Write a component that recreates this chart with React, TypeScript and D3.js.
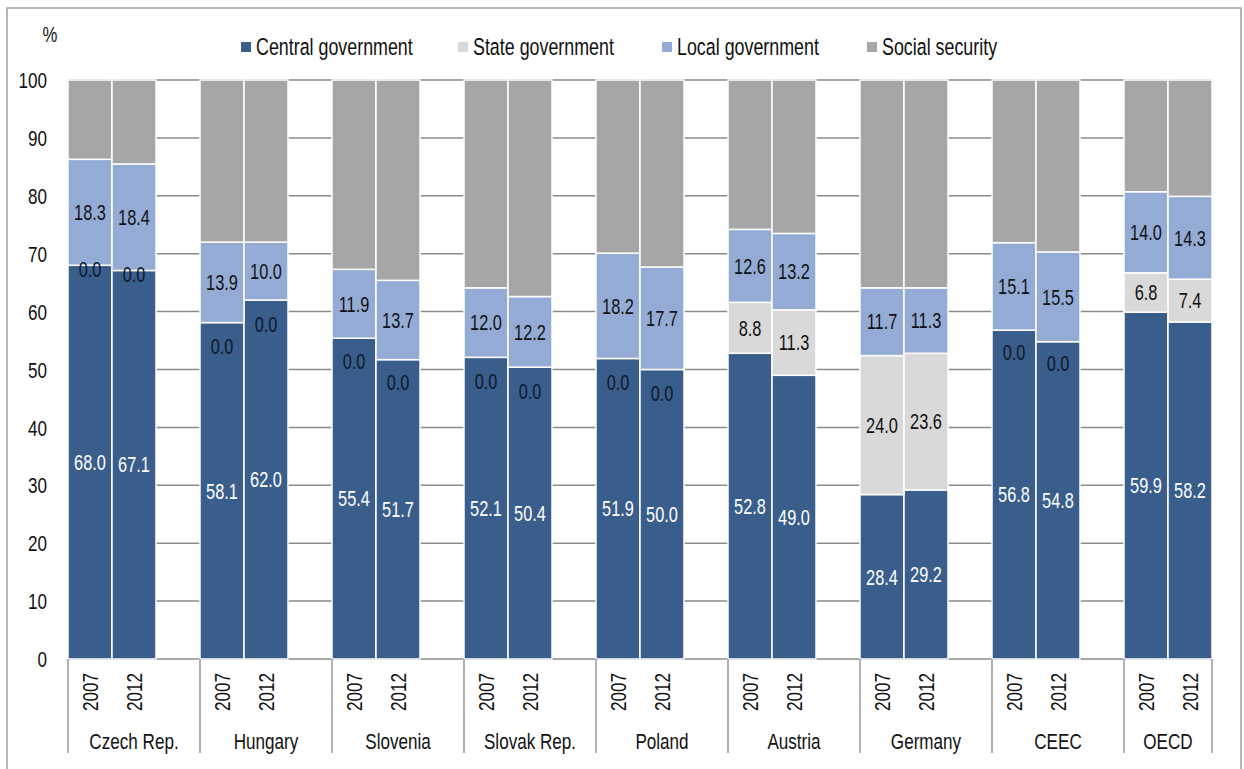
import React from 'react';
import * as d3 from 'd3';

// Composition of government expenditure by level of government, % of total
const COUNTRIES = ['Czech Rep.', 'Hungary', 'Slovenia', 'Slovak Rep.', 'Poland', 'Austria', 'Germany', 'CEEC', 'OECD'];
const YEARS = ['2007', '2012'];

const CENTRAL_2007 = [68.0, 58.1, 55.4, 52.1, 51.9, 52.8, 28.4, 56.8, 59.9];
const CENTRAL_2012 = [67.1, 62.0, 51.7, 50.4, 50.0, 49.0, 29.2, 54.8, 58.2];
const STATE_2007 = [0.0, 0.0, 0.0, 0.0, 0.0, 8.8, 24.0, 0.0, 6.8];
const STATE_2012 = [0.0, 0.0, 0.0, 0.0, 0.0, 11.3, 23.6, 0.0, 7.4];
const LOCAL_2007 = [18.3, 13.9, 11.9, 12.0, 18.2, 12.6, 11.7, 15.1, 14.0];
const LOCAL_2012 = [18.4, 10.0, 13.7, 12.2, 17.7, 13.2, 11.3, 15.5, 14.3];

const SERIES = ['Central government', 'State government', 'Local government', 'Social security'];
const Y_TICKS = [0, 10, 20, 30, 40, 50, 60, 70, 80, 90, 100];

const COLORS: Record<string, string> = {
  'Central government': '#3a5e8c',
  'State government': '#d9d9d9',
  'Local government': '#94acd5',
  'Social security': '#a6a6a6',
};

// Zero-valued state labels sit a little below the segment boundary
const ZERO_LABEL_DROP = [4, 24, 23, 24, 24, 0, 0, 22, 0];

const FONT = '"Liberation Sans", Arial, sans-serif';
// horizontal squeeze giving a narrow-face look
const SQUEEZE = 0.76;

type Row = {
  country: string;
  ci: number;
  year: string;
  [k: string]: any;
};

const rows: Row[] = [];
COUNTRIES.forEach((c, i) => {
  const central = [CENTRAL_2007[i], CENTRAL_2012[i]];
  const state = [STATE_2007[i], STATE_2012[i]];
  const local = [LOCAL_2007[i], LOCAL_2012[i]];
  YEARS.forEach((y, j) => {
    const sum = central[j] + state[j] + local[j];
    rows.push({
      country: c,
      ci: i,
      year: y,
      'Central government': central[j],
      'State government': state[j],
      'Local government': local[j],
      'Social security': Math.max(0, 100 - sum),
    });
  });
});

type NTextProps = {
  x: number;
  y: number;
  size: number;
  anchor?: 'start' | 'middle' | 'end';
  fill?: string;
  dy?: string;
  rotate?: number;
  children: React.ReactNode;
};

function NText({ x, y, size, anchor = 'start', fill = '#111', dy, rotate = 0, children }: NTextProps) {
  return (
    <text
      transform={`translate(${x},${y}) rotate(${rotate}) scale(${SQUEEZE},1)`}
      fontSize={size}
      textAnchor={anchor}
      fill={fill}
      dy={dy}
    >
      {children}
    </text>
  );
}

export default function App() {
  const W = 1244;
  const H = 769;
  const left = 68;
  const slot = 44;
  const groupW = slot * 3;
  const top = 80;
  const bottom = 659;

  const xGroup = d3
    .scaleBand<string>()
    .domain(COUNTRIES)
    .range([left, left + groupW * COUNTRIES.length])
    .padding(0);
  const xYear = d3.scaleBand<string>().domain(YEARS).range([0, slot * 2]).padding(0);
  const plotRight = (xGroup('OECD') as number) + slot * 2;

  const y = d3.scaleLinear().domain([0, 100]).range([bottom, top]);

  const stacked = d3.stack<Row>().keys(SERIES)(rows);

  const legendItems = [
    { name: 'Central government', x: 241 },
    { name: 'State government', x: 458 },
    { name: 'Local government', x: 662 },
    { name: 'Social security', x: 867 },
  ];

  const separators = [...COUNTRIES.map((c) => xGroup(c) as number), plotRight];

  return (
    <svg
      width={W}
      height={H}
      style={{ position: 'absolute', left: 0, top: 0, background: '#fff' }}
      fontFamily={FONT}
    >
      {/* frame */}
      <path d={`M7,769 V8 H1241 V769`} fill="none" stroke="#a0a0a0" strokeWidth={1.5} />

      {/* unit */}
      <NText x={50} y={42} size={22} anchor="middle">%</NText>

      {/* legend */}
      {legendItems.map((it) => (
        <g key={it.name}>
          <rect x={it.x} y={42} width={10} height={10} fill={COLORS[it.name]} />
          <NText x={it.x + 15} y={55} size={23.5}>{it.name}</NText>
        </g>
      ))}

      {/* gridlines */}
      {Y_TICKS.map((t) => (
        <line key={t} x1={left} x2={plotRight} y1={y(t)} y2={y(t)} stroke="#8a8a8a" strokeWidth={1.5} />
      ))}

      {/* y tick labels */}
      {Y_TICKS.map((t) => (
        <NText key={t} x={47} y={y(t)} dy="0.36em" size={22.5} anchor="end">
          {t}
        </NText>
      ))}

      {/* stacked bars */}
      {stacked.map((s) => (
        <g key={s.key}>
          {s.map((d, i) => {
            const r = d.data;
            const x0 = (xGroup(r.country) as number) + (xYear(r.year) as number);
            const h = y(d[0]) - y(d[1]);
            if (h <= 0) return null;
            return (
              <rect
                key={i}
                x={x0}
                y={y(d[1])}
                width={xYear.bandwidth()}
                height={h}
                fill={COLORS[s.key]}
                stroke="#fff"
                strokeWidth={1.5}
              />
            );
          })}
        </g>
      ))}

      {/* value labels */}
      {stacked
        .filter((s) => s.key !== 'Social security')
        .map((s) => (
          <g key={s.key}>
            {s.map((d, i) => {
              const r = d.data;
              const v = r[s.key] as number;
              const cx = (xGroup(r.country) as number) + (xYear(r.year) as number) + xYear.bandwidth() / 2;
              let cy = y((d[0] + d[1]) / 2);
              if (v === 0) cy += ZERO_LABEL_DROP[r.ci];
              const fill = v === 0 ? '#0d1726' : s.key === 'Central government' ? '#fff' : '#111';
              return (
                <NText key={i} x={cx} y={cy} dy="0.36em" size={21.5} anchor="middle" fill={fill}>
                  {v.toFixed(1)}
                </NText>
              );
            })}
          </g>
        ))}

      {/* x axis: category separators */}
      {separators.map((sx, i) => (
        <line key={i} x1={sx} x2={sx} y1={bottom} y2={753} stroke="#9a9a9a" strokeWidth={1.5} />
      ))}

      {/* year labels */}
      {rows.map((r, i) => {
        const cx = (xGroup(r.country) as number) + (xYear(r.year) as number) + xYear.bandwidth() / 2;
        return (
          <NText key={i} x={cx} y={673} rotate={-90} dy="0.36em" size={22.5} anchor="end">
            {r.year}
          </NText>
        );
      })}

      {/* country labels */}
      {COUNTRIES.map((c, i) => {
        const x0 = xGroup(c) as number;
        const x1 = separators[i + 1];
        return (
          <NText key={c} x={(x0 + x1) / 2} y={749} size={22.5} anchor="middle">
            {c}
          </NText>
        );
      })}
    </svg>
  );
}
